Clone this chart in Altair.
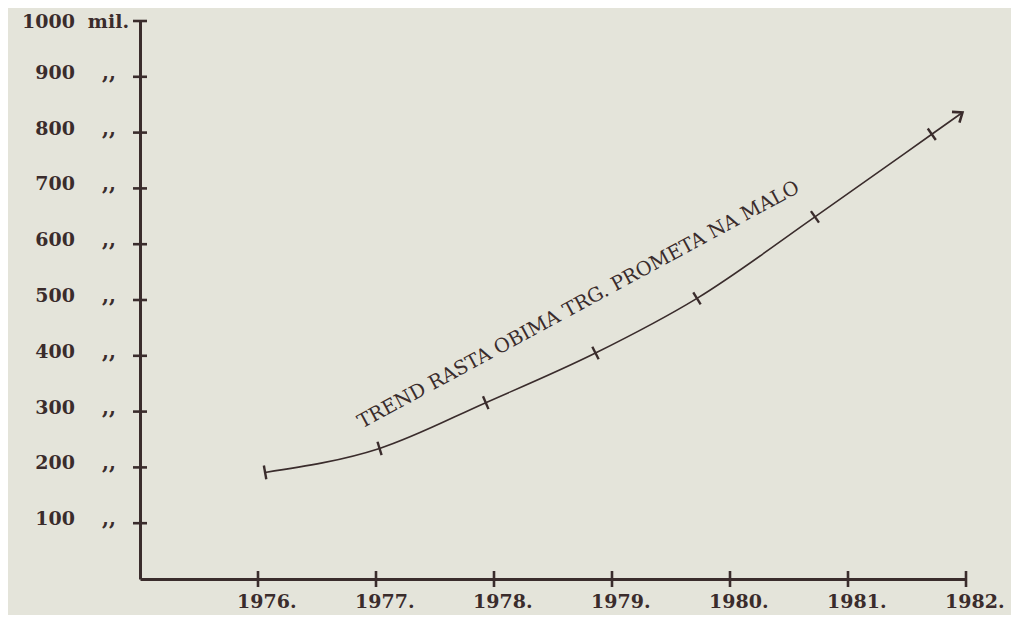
import altair as alt
import pandas as pd

# ---- data ----
pt_x = [1976.06, 1977.03, 1977.93, 1978.86, 1979.72, 1980.72, 1981.71]
pt_y = [191, 234, 316, 405, 503, 649, 797]
pt_angle = [350, 343, 337, 333, 328, 325, 325]
arrow_x = [1981.97]
arrow_y = [836]

y_ticks = [100, 200, 300, 400, 500, 600, 700, 800, 900, 1000]
y_labels = ["100", "200", "300", "400", "500", "600", "700", "800", "900", "1000"]
y_suffix = [",,", ",,", ",,", ",,", ",,", ",,", ",,", ",,", ",,", "mil."]
x_ticks = [1976, 1977, 1978, 1979, 1980, 1981, 1982]
x_labels = ["1976.", "1977.", "1978.", "1979.", "1980.", "1981.", "1982."]
trend_text = ["TREND RASTA OBIMA TRG. PROMETA NA MALO"]

INK = "#3a2c2c"
BG = "#e4e4da"
FONT = "DejaVu Serif"

line_df = pd.DataFrame({"x": pt_x + arrow_x, "y": pt_y + arrow_y})
pts_df = pd.DataFrame({"x": pt_x, "y": pt_y, "a": pt_angle})
arrow_df = pd.DataFrame({"x": arrow_x, "y": arrow_y, "a": [55]})
ytk_df = pd.DataFrame({"x": [1975] * len(y_ticks), "y": y_ticks, "lab": y_labels, "suf": y_suffix})
xtk_df = pd.DataFrame({"x": x_ticks, "y": [0] * len(x_ticks), "lab": x_labels})
txt_df = pd.DataFrame({"x": [1978.74], "y": [482], "t": trend_text})
ytk_low = ytk_df[ytk_df["suf"] == ",,"]
ytk_top = ytk_df[ytk_df["suf"] == "mil."]

xs = alt.Scale(domain=[1975, 1982], nice=False, zero=False)
ys = alt.Scale(domain=[0, 1000], nice=False)
X = lambda: alt.X("x:Q", scale=xs, axis=alt.Axis(labels=False, ticks=False, grid=False, title=None,
                                                   domainColor=INK, domainWidth=3))
Y = lambda: alt.Y("y:Q", scale=ys, axis=alt.Axis(labels=False, ticks=False, grid=False, title=None,
                                                  domainColor=INK, domainWidth=3))

line = alt.Chart(line_df).mark_line(color=INK, strokeWidth=1.6, interpolate="monotone").encode(x=X(), y=Y())

marks = alt.Chart(pts_df).mark_point(shape="M0,-1L0,1", size=196, color=INK, strokeWidth=2.4,
                                      filled=False, opacity=1).encode(
    x=X(), y=Y(), angle=alt.Angle("a:Q", scale=None))

arrow = alt.Chart(arrow_df).mark_point(shape="M-0.75,0.95L0,0L0.75,0.95", size=300, color=INK,
                                       strokeWidth=2.6, filled=False, opacity=1).encode(
    x=X(), y=Y(), angle=alt.Angle("a:Q", scale=None))

ycross = alt.Chart(ytk_df).mark_point(shape="M-1,0L1,0", size=196, color=INK, strokeWidth=2.6,
                                       filled=False, opacity=1).encode(x=X(), y=Y())
xcross = alt.Chart(xtk_df).mark_point(shape="M0,-1L0,1", size=256, color=INK, strokeWidth=2.6,
                                       filled=False, opacity=1).encode(x=X(), y=Y())

ylab = alt.Chart(ytk_low).mark_text(font=FONT, fontSize=19, fontWeight="bold", color=INK, align="right",
                                     baseline="middle", dx=-65, dy=-4).encode(x=X(), y=Y(), text="lab:N")
ylab_top = alt.Chart(ytk_top).mark_text(font=FONT, fontSize=19, fontWeight="bold", color=INK, align="right",
                                         baseline="middle", dx=-65, dy=1).encode(x=X(), y=Y(), text="lab:N")
ysuf = alt.Chart(ytk_low).mark_text(font=FONT, fontSize=20, fontWeight="bold", color=INK,
                                     align="right", baseline="middle", dx=-24, dy=-4).encode(
    x=X(), y=Y(), text="suf:N")
ymil = alt.Chart(ytk_top).mark_text(font=FONT, fontSize=19, fontWeight="bold", color=INK,
                                     align="right", baseline="middle", dx=-11, dy=1).encode(
    x=X(), y=Y(), text="suf:N")
xlab = alt.Chart(xtk_df).mark_text(font=FONT, fontSize=19, fontWeight="bold", color=INK, align="left",
                                    baseline="middle", dx=-21, dy=23).encode(x=X(), y=Y(), text="lab:N")

trend = alt.Chart(txt_df).mark_text(font=FONT, fontSize=19.5, color=INK, align="center", baseline="alphabetic",
                                     angle=331.6).encode(x=X(), y=Y(), text="t:N")

chart = alt.layer(line, marks, arrow, ycross, xcross, ylab, ylab_top, ysuf, ymil, xlab, trend).properties(
    width=826, height=558,
    autosize=alt.AutoSizeParams(type="none"),
    padding={"left": 132, "top": 13, "right": 45, "bottom": 36},
    background=BG,
).configure_view(stroke=None)

chart.save("out.html", embed_options={"renderer": "svg", "actions": False})
